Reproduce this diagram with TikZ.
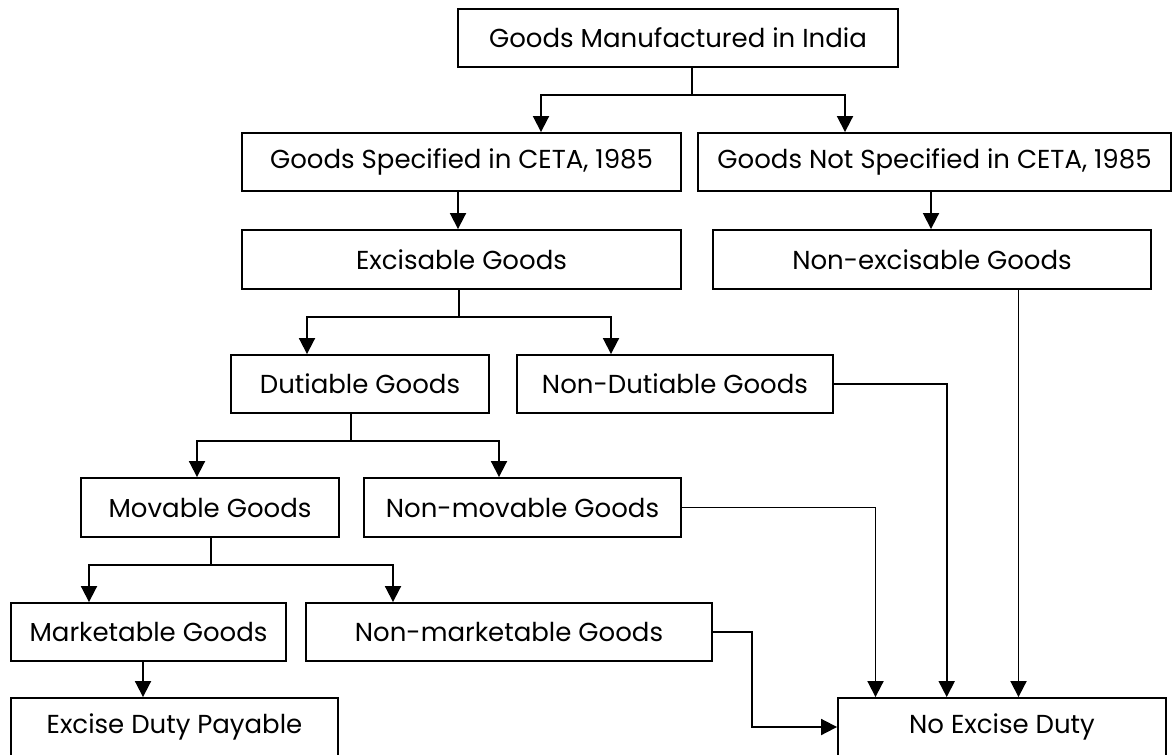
\documentclass[tikz,border=0pt]{standalone}
\usepackage{fontspec}
\setmainfont{Poppins}
\usetikzlibrary{arrows.meta}
\begin{document}
\begin{tikzpicture}[x=0.75pt, y=-0.75pt,
  box/.style={draw, line width=1.4pt, inner sep=0pt, align=center,
              font=\fontsize{19.5}{22}\selectfont},
  wh/.style 2 args={minimum width=#1*0.75pt, minimum height=#2*0.75pt},
  arr/.style={line width=1.4pt, -{Triangle[length=12pt, width=12pt]}},
  link/.style={line width=1.4pt}
]
\useasboundingbox (0,0) rectangle (1173,755);

% boxes
\node[box, wh={440}{58}] (top)  at (678,38)    {Goods Manufactured in India};
\node[box, wh={439}{58}] (gs)   at (461.5,162) {Goods Specified in CETA, 1985};
\node[box, wh={473}{58}] (gns)  at (934.5,162) {Goods Not Specified in CETA, 1985};
\node[box, wh={439}{59}] (exc)  at (461.5,259.5) {Excisable Goods};
\node[box, wh={438}{59}] (nexc) at (932,259.5) {Non-excisable Goods};
\node[box, wh={258}{58}] (dut)  at (360,384)   {Dutiable Goods};
\node[box, wh={316}{58}] (ndut) at (675,384)   {Non-Dutiable Goods};
\node[box, wh={258}{59}] (mov)  at (210,507.5) {Movable Goods};
\node[box, wh={317}{59}] (nmov) at (522.5,507.5) {Non-movable Goods};
\node[box, wh={275}{58}] (mkt)  at (148.5,632) {Marketable Goods};
\node[box, wh={406}{58}] (nmkt) at (509,632)   {Non-marketable Goods};
\node[box, wh={327}{58}] (edp)  at (174.5,727) {Excise Duty Payable};
\node[box, wh={328}{58}] (ned)  at (1002,727)  {No Excise Duty};

% branch points and drop columns
\coordinate (j1) at (692,95);
\coordinate (j2) at (459,317);
\coordinate (j3) at (351,441);
\coordinate (j4) at (211,565);
\coordinate (c1) at (541,0);
\coordinate (c2) at (845,0);
\coordinate (c3) at (458,0);
\coordinate (c4) at (931,0);
\coordinate (c5) at (307,0);
\coordinate (c6) at (611,0);
\coordinate (c7) at (197,0);
\coordinate (c8) at (499,0);
\coordinate (c9) at (89,0);
\coordinate (c10) at (393,0);
\coordinate (c11) at (143,0);
\coordinate (c12) at (752,0);
\coordinate (c13) at (875.5,0);
\coordinate (c14) at (946.7,0);
\coordinate (c15) at (1018.5,0);

% connectors
\draw[link] (top.south -| j1) -- (j1);
\draw[arr] (j1) -| (gs.north -| c1);
\draw[arr] (j1) -| (gns.north -| c2);
\draw[arr] (gs.south -| c3) -- (exc.north -| c3);
\draw[arr] (gns.south -| c4) -- (nexc.north -| c4);

\draw[link] (exc.south -| j2) -- (j2);
\draw[arr] (j2) -| (dut.north -| c5);
\draw[arr] (j2) -| (ndut.north -| c6);

\draw[link] (dut.south -| j3) -- (j3);
\draw[arr] (j3) -| (mov.north -| c7);
\draw[arr] (j3) -| (nmov.north -| c8);

\draw[link] (mov.south -| j4) -- (j4);
\draw[arr] (j4) -| (mkt.north -| c9);
\draw[arr] (j4) -| (nmkt.north -| c10);

\draw[arr] (mkt.south -| c11) -- (edp.north -| c11);

\draw[arr] (nmkt.east) -- (nmkt.east -| c12) |- (ned.west);
\draw[arr] (nmov.east) -| (ned.north -| c13);
\draw[arr] (ndut.east) -| (ned.north -| c14);
\draw[arr] (nexc.south -| c15) -- (ned.north -| c15);
\end{tikzpicture}
\end{document}
